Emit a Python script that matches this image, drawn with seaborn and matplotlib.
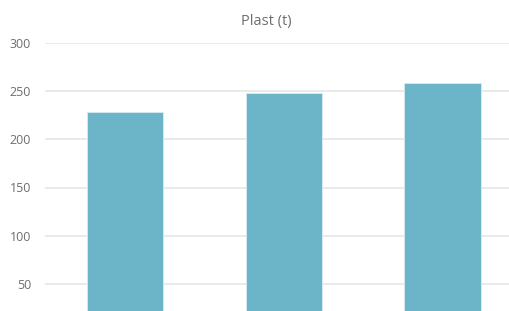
import matplotlib
matplotlib.use("Agg")
import matplotlib.pyplot as plt
import seaborn as sns
import pandas as pd

categories = ["A", "B", "C"]
values = [228, 248, 258]
yticks = [50, 100, 150, 200, 250, 300]
title = "Plast (t)"

sns.set_theme(style="white")
plt.rcParams['font.family'] = ['Open Sans', 'DejaVu Sans']

fig = plt.figure(figsize=(5.09, 3.11), dpi=100)
ax = fig.add_axes([45/509, 1 - 332/311, 477.5/509, (332-43)/311])

df = pd.DataFrame({"cat": categories, "val": values})
sns.barplot(data=df, x="cat", y="val", color="#6cb4c8", saturation=1, width=0.48,
            edgecolor="#d8ecf2", linewidth=0.6, ax=ax, zorder=3)

ax.set_ylim(0, 300)
ax.set_xlim(-0.504, 2.504)
ax.set_yticks(yticks)
ax.set_yticklabels([str(t) for t in yticks])
ax.set_xticks([])
ax.set_xlabel("")
ax.set_ylabel("")
ax.grid(axis="y", color="#e6e6e6", linewidth=1.2, zorder=0)
for s in ax.spines.values():
    s.set_visible(False)
ax.tick_params(axis="y", length=0, pad=10, labelsize=9, labelcolor="#6e6e6e")

fig.text(266/509, 1 - 22/311, title, ha="center", va="center", fontsize=10.5, color="#6e6e6e")

fig.savefig("out.png", dpi=100)
